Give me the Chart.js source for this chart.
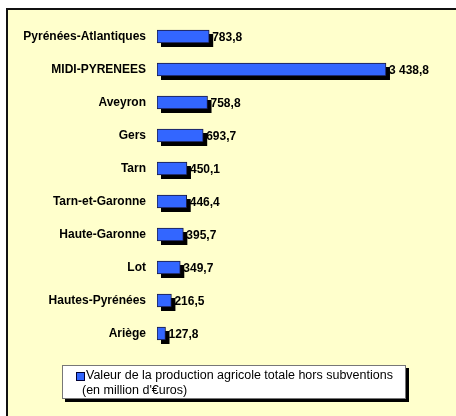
<!DOCTYPE html>
<html>
<head>
<meta charset="utf-8">
<script src="https://cdn.jsdelivr.net/npm/chart.js@4/dist/chart.umd.min.js"></script>
<style>
  html,body{margin:0;padding:0;width:456px;height:416px;overflow:hidden;background:#fff;}
  #frame{position:absolute;left:6px;top:8px;width:470px;height:430px;background:#FFFFCC;border-top:2px solid #111;border-left:2px solid #111;}
  #wrap{position:absolute;left:0;top:0;width:456px;height:416px;}
  #legend{position:absolute;left:62px;top:365px;width:344px;height:34px;box-sizing:border-box;border:1px solid #777;background:#fff;box-shadow:3px 3px 0 #000;font-family:'Liberation Sans',Arial,sans-serif;font-size:12.5px;color:#000;line-height:14px;}
  #legend .sw{position:absolute;left:13px;top:6px;width:7px;height:7px;background:#3366FF;border:1px solid #000033;}
  #legend .l1{position:absolute;left:23px;top:2px;white-space:nowrap;}
  #legend .l2{position:absolute;left:19px;top:17px;white-space:nowrap;}
</style>
</head>
<body>
<div id="frame"></div>
<div id="wrap"><canvas id="c" width="456" height="416"></canvas></div>
<div id="legend"><span class="sw"></span><div class="l1">Valeur de la production agricole totale hors subventions</div><div class="l2">(en million d'€uros)</div></div>
<script>
const categories = ["Pyrénées-Atlantiques","MIDI-PYRENEES","Aveyron","Gers","Tarn","Tarn-et-Garonne","Haute-Garonne","Lot","Hautes-Pyrénées","Ariège"];
const values = [783.8, 3438.8, 758.8, 693.7, 450.1, 446.4, 395.7, 349.7, 216.5, 127.8];
const seriesName = "Valeur de la production agricole totale hors subventions (en million d'€uros)";

function fmt(v){
  const s = v.toFixed(1).split('.');
  const intPart = s[0].replace(/\B(?=(\d{3})+(?!\d))/g, ' ');
  return intPart + ',' + s[1];
}

const FONT = "'Liberation Sans', Arial, sans-serif";

const barDecor = {
  id: 'barDecor',
  beforeDatasetsDraw(chart){
    const ctx = chart.ctx;
    const meta = chart.getDatasetMeta(0);
    ctx.save();
    ctx.fillStyle = '#000';
    meta.data.forEach(el => {
      const p = el.getProps(['x','y','base','height'], true);
      ctx.fillRect(p.base + 4, p.y - p.height/2 + 4, p.x - p.base, p.height);
    });
    ctx.restore();
  },
  afterDatasetsDraw(chart){
    const ctx = chart.ctx;
    const meta = chart.getDatasetMeta(0);
    const data = chart.data.datasets[0].data;
    ctx.save();
    ctx.font = "bold 12px " + FONT;
    ctx.fillStyle = '#000';
    ctx.textBaseline = 'middle';
    ctx.textAlign = 'left';
    meta.data.forEach((el, i) => {
      const p = el.getProps(['x','y'], true);
      ctx.fillText(fmt(data[i]), p.x + 3, p.y + 1);
    });
    ctx.restore();
  }
};

new Chart(document.getElementById('c'), {
  type: 'bar',
  data: {
    labels: categories,
    datasets: [{
      label: seriesName,
      data: values,
      backgroundColor: '#3366FF',
      borderColor: '#1a1a40',
      borderWidth: 1,
      borderSkipped: false,
      barThickness: 13
    }]
  },
  options: {
    indexAxis: 'y',
    responsive: false,
    animation: false,
    layout: { padding: { top: 20, bottom: 66, right: 16, left: 0 } },
    plugins: { legend: { display: false }, tooltip: { enabled: false } },
    scales: {
      x: { display: false, min: 0, max: 4250 },
      y: {
        grid: { display: false, drawTicks: false },
        border: { display: false },
        ticks: { color: '#000', font: { family: FONT, size: 12, weight: 'bold' }, padding: 11 },
        afterFit(scale){ scale.width = 157; }
      }
    }
  },
  plugins: [barDecor]
});
</script>
</body>
</html>
